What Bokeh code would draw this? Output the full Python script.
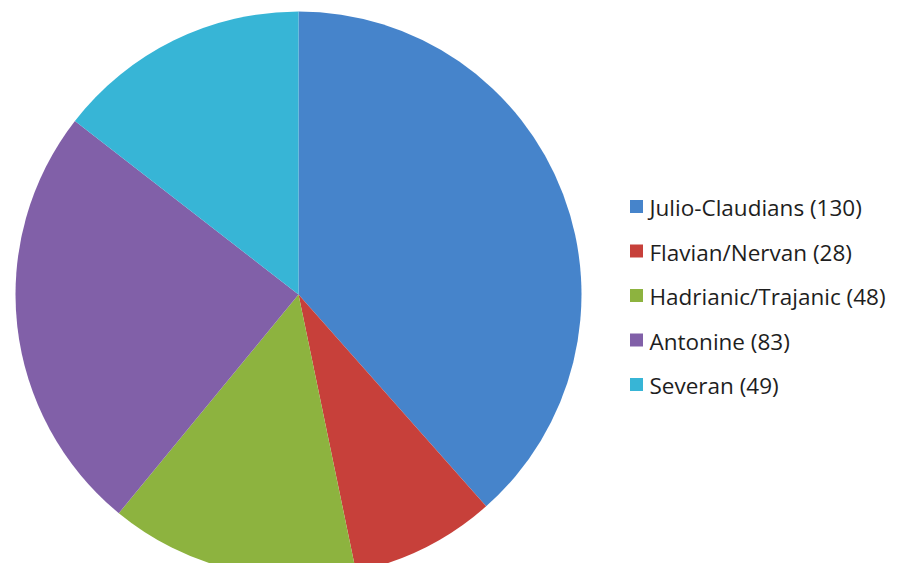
import numpy as np
from bokeh.plotting import figure
from bokeh.models import Range1d
from bokeh.core.properties import value
from bokeh.embed import file_html
from bokeh.resources import INLINE

categories = ["Julio-Claudians", "Flavian/Nervan", "Hadrianic/Trajanic", "Antonine", "Severan"]
counts = [130, 28, 48, 83, 49]
colors = ["#4684CB", "#C7403A", "#8DB33F", "#8160A8", "#37B5D6"]
labels = [f"{c} ({n})" for c, n in zip(categories, counts)]

W, H = 892, 563
p = figure(width=W, height=H, output_backend="svg", toolbar_location=None,
           x_range=Range1d(0, W), y_range=Range1d(579 - H, 579),
           min_border=0, outline_line_color=None)
p.axis.visible = False
p.grid.visible = False
p.background_fill_color = "white"

vals = np.array(counts, dtype=float)
frac = vals / vals.sum()
ends = np.cumsum(frac) * 2 * np.pi
starts = np.concatenate([[0.0], ends[:-1]])
start_angle = np.pi / 2 - starts
end_angle = np.pi / 2 - ends

cx, cy, r = 298, 579 - 294, 283
p.wedge(x=cx, y=cy, radius=r, start_angle=start_angle, end_angle=end_angle,
        direction="clock", fill_color=colors, line_color=None)

# legend
ly = 579 - (206 + 44.5 * np.arange(len(categories)))
p.scatter(x=636, y=ly, marker="square", size=13, fill_color=colors, line_color=None)
p.text(x=649, y=ly - 1, text=labels, text_font=value("Open Sans"), text_font_size="22.5px",
       text_baseline="middle", text_align="left", text_color="#1e1e1e")

open("out.html", "w").write(file_html(p, INLINE))
